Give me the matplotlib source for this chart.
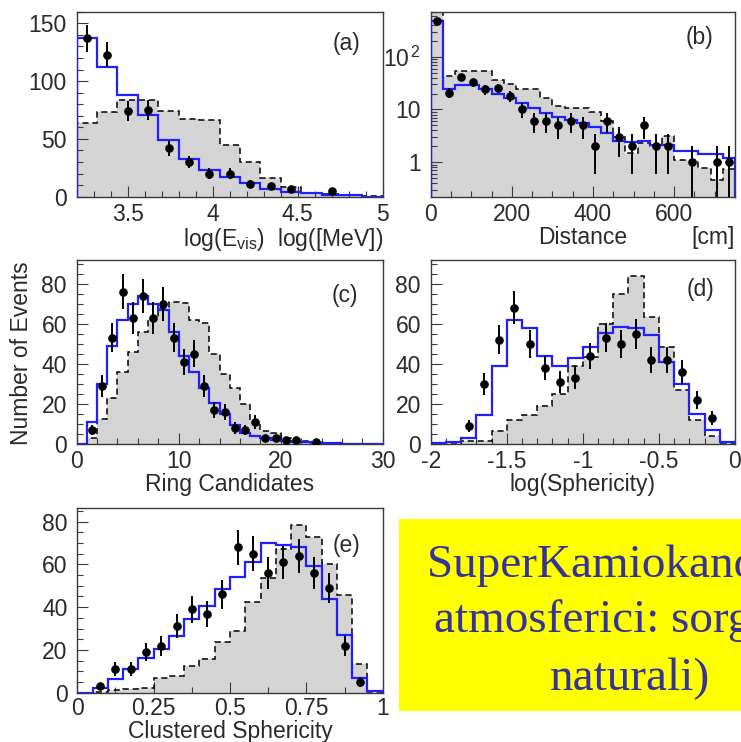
import numpy as np
import matplotlib
matplotlib.use("Agg")
import matplotlib.pyplot as plt
from matplotlib.ticker import (MultipleLocator, FixedLocator, FixedFormatter,
                               LogLocator, NullFormatter, FuncFormatter)
from matplotlib.patches import Rectangle

plt.rcParams['font.family'] = ['Liberation Sans', 'DejaVu Sans']
plt.rcParams['mathtext.fontset'] = 'custom'
plt.rcParams['mathtext.rm'] = 'Liberation Sans'
plt.rcParams['mathtext.it'] = 'Liberation Sans:italic'
plt.rcParams['axes.unicode_minus'] = False

# ---------------- (a) visible energy, 15 bins from 3.2 to 5.0 ----------------
evis_range = (3.2, 5.0, 15)
evis_data = [137, 123, 74, 75, 42, 30, 20, 20, 11, 9, 7, 0, 5, 0, 0]
evis_signal = [137, 112, 88, 71, 49, 33, 23, 17, 11.6, 7, 4.3, 3, 1.5, 1.5, 0]
evis_bkg = [64, 73, 84, 84, 74, 67, 66, 45, 30, 16, 8.7, 3.5, 2.3, 1.5, 1]

# ---------------- (b) distance, 25 bins from 0 to 750 cm ----------------
dist_range = (0, 750, 25)
dist_data = [480, 21, 41, 33, 24, 26, 18, 10, 6, 6, 5, 6, 5, 2, 6, 3, 2, 5, 2, 2,
             0, 1, 0, 1, 1]
dist_signal = [490, 24, 29, 29, 25, 20, 16.5, 13, 10.5, 8.5, 7.2, 6.3, 5.5, 4.6,
               3.5, 2.5, 2.4, 2.5, 2.1, 2.1, 1.65, 1.65, 1.4, 1.4, 1.2]
dist_bkg = [900, 43, 55, 55, 53, 37, 30, 25, 25, 16.6, 11.5, 10.5, 10.5, 8.8, 6.0,
            3.0, 1.5, 2.3, 2.0, 3.1, 1.1, 1.1, 0.77, 0.46, 0.75]

# ---------------- (c) ring candidates, 30 bins from 0 to 30 ----------------
ring_range = (0, 30, 30)
ring_data = [0, 7, 29, 53, 76, 63, 74, 63, 70, 53, 41, 45, 29, 17, 16, 8, 7, 11,
             3, 3, 2, 2, 0, 1, 0, 0, 0, 0, 0, 0]
ring_signal = [0, 11, 30, 48.7, 62, 70, 74, 70, 66.8, 55.9, 44, 35.7, 28, 20.6,
               14.8, 9.5, 5.5, 4, 3, 2.2, 1.7, 1.2, 0.8, 0.5, 0.4, 0.3, 0.2, 0.2,
               0.2, 0.2]
ring_bkg = [0, 3, 12.6, 23, 36, 46, 56, 62.5, 68, 71, 70.5, 61.7, 60.5, 45, 35,
            28, 20, 11.4, 6.4, 5.5, 3, 2.2, 1.3, 0.8, 0.5, 0.3, 0, 0, 0, 0]

# ---------------- (d) log(sphericity), 20 bins from -2 to 0 ----------------
sph_range = (-2.0, 0.0, 20)
sph_data = [0, 0, 9, 30, 52, 68, 50, 38, 31, 33, 44, 53, 50, 55, 42, 42, 36, 22,
            13, 0]
sph_signal = [0.3, 0.8, 3, 14.3, 39, 62, 58, 43.8, 39, 42.8, 48.3, 55.4, 58.4,
              57.9, 54.2, 41, 30.2, 15.1, 7.2, 0.8]
sph_bkg = [0, 0, 1.3, 1.3, 6.7, 12.2, 14.4, 19, 25, 39, 43.6, 60, 74.7, 84, 63.4,
           48.3, 26.8, 12.2, 3.9, 0]

# ---------------- (e) clustered sphericity, 20 bins from 0 to 1 ----------------
csph_range = (0.0, 1.0, 20)
csph_data = [0, 3, 11, 11, 19, 22, 31, 39, 37, 46, 68, 65, 56, 61, 64, 56, 49, 22,
             5, 0]
csph_signal = [0, 2.3, 6.2, 10.9, 16.4, 20.3, 26.5, 34.3, 40.6, 48.4, 54.3, 61,
               69.9, 69.1, 68.3, 59.3, 43.7, 27, 7, 0.8]
csph_bkg = [0, 0.5, 1.2, 1.6, 2.3, 7, 7.8, 12.5, 15.6, 23.9, 28.9, 42.6, 53.8, 67,
            78.5, 73, 60.2, 45.7, 13.3, 0]

BLUE = '#1f1fff'
GRAY = '#d4d4d4'
FRAME = '#3a3a3a'
TXT = '#2a2a2a'
FS = 16.5

fig = plt.figure(figsize=(7.41, 7.42), dpi=100)


def draw_panel(ax, rng, data, signal, bkg, log=False, xpad=4.5):
    edges = np.linspace(rng[0], rng[1], rng[2] + 1)
    base = 1e-3 if log else 0.0
    ax.stairs(bkg, edges, baseline=base, fill=True, color=GRAY, lw=0, zorder=1)
    ax.stairs(bkg, edges, baseline=base, color='black', ls=(0, (4, 2.5)),
              lw=1.1, zorder=2)
    ax.stairs(signal, edges, baseline=base, color=BLUE, lw=1.6, zorder=3)
    centers = 0.5 * (edges[:-1] + edges[1:])
    d = np.asarray(data, float)
    m = d > 0
    err = np.sqrt(d[m])
    lo = np.minimum(err, d[m] - base) if log else err
    ax.errorbar(centers[m], d[m], yerr=[lo, err], fmt='o', color='black',
                ms=5.2, elinewidth=1.4, capsize=0, zorder=4)
    ax.set_xlim(rng[0], rng[1])
    for s in ax.spines.values():
        s.set_color(FRAME)
        s.set_linewidth(1.0)
    ax.tick_params(which='both', direction='in', top=False, right=False,
                   colors=FRAME, labelcolor=TXT, labelsize=FS, width=0.8)
    ax.tick_params(which='major', length=8)
    ax.tick_params(which='minor', length=4)
    ax.tick_params(axis='y', pad=7)
    ax.tick_params(axis='x', pad=xpad)
    return edges


gfmt = FuncFormatter(lambda v, p: '%g' % v)

# (a)
ax_a = fig.add_axes([0.1035, 0.7349, 0.413, 0.2493])
draw_panel(ax_a, evis_range, evis_data, evis_signal, evis_bkg)
ax_a.set_ylim(0, 160)
ax_a.xaxis.set_major_locator(MultipleLocator(0.5))
ax_a.xaxis.set_minor_locator(MultipleLocator(0.1))
ax_a.xaxis.set_major_formatter(gfmt)
ax_a.yaxis.set_major_locator(MultipleLocator(50))
ax_a.yaxis.set_minor_locator(MultipleLocator(10))
ax_a.set_xlabel(r'log(E$_{\mathrm{vis}}$)  log([MeV])', fontsize=FS, color=TXT,
                loc='right', labelpad=0)
ax_a.text(0.883, 0.83, '(a)', transform=ax_a.transAxes, fontsize=FS,
          color=TXT, ha='center', va='center')

# (b)
ax_b = fig.add_axes([0.5812, 0.7349, 0.4107, 0.2493])
ax_b.set_yscale('log')
draw_panel(ax_b, dist_range, dist_data, dist_signal, dist_bkg, log=True)
ax_b.set_ylim(0.22, 720)
ax_b.xaxis.set_major_locator(MultipleLocator(200))
ax_b.xaxis.set_minor_locator(MultipleLocator(50))
ax_b.yaxis.set_major_locator(FixedLocator([1, 10, 100]))
ax_b.yaxis.set_major_formatter(FixedFormatter(['1', '10', r'10$^{\,2}$']))
ax_b.yaxis.set_minor_locator(LogLocator(base=10, subs=np.arange(2, 10)))
ax_b.yaxis.set_minor_formatter(NullFormatter())
ax_b.set_xlabel('Distance', fontsize=FS, color=TXT, labelpad=0)
ax_b.text(1.0, -0.255, '[cm]', transform=ax_b.transAxes, fontsize=FS,
          color=TXT, ha='right', va='baseline')
ax_b.text(0.882, 0.858, '(b)', transform=ax_b.transAxes, fontsize=FS,
          color=TXT, ha='center', va='center')

# (c)
ax_c = fig.add_axes([0.1035, 0.4016, 0.413, 0.2484])
draw_panel(ax_c, ring_range, ring_data, ring_signal, ring_bkg)
ax_c.set_ylim(0, 92)
ax_c.xaxis.set_major_locator(MultipleLocator(10))
ax_c.xaxis.set_minor_locator(MultipleLocator(2))
ax_c.yaxis.set_major_locator(MultipleLocator(20))
ax_c.yaxis.set_minor_locator(MultipleLocator(5))
ax_c.set_xlabel('Ring Candidates', fontsize=FS, color=TXT, labelpad=0)
ax_c.text(0.877, 0.808, '(c)', transform=ax_c.transAxes, fontsize=FS,
          color=TXT, ha='center', va='center')

# (d)
ax_d = fig.add_axes([0.5812, 0.4016, 0.4107, 0.2484])
draw_panel(ax_d, sph_range, sph_data, sph_signal, sph_bkg)
ax_d.set_ylim(0, 92)
ax_d.xaxis.set_major_locator(MultipleLocator(0.5))
ax_d.xaxis.set_minor_locator(MultipleLocator(0.1))
ax_d.xaxis.set_major_formatter(gfmt)
ax_d.yaxis.set_major_locator(MultipleLocator(20))
ax_d.yaxis.set_minor_locator(MultipleLocator(5))
ax_d.set_xlabel('log(Sphericity)', fontsize=FS, color=TXT, labelpad=0)
ax_d.text(0.885, 0.836, '(d)', transform=ax_d.transAxes, fontsize=FS,
          color=TXT, ha='center', va='center')

# (e)
ax_e = fig.add_axes([0.1043, 0.0664, 0.4122, 0.2494])
draw_panel(ax_e, csph_range, csph_data, csph_signal, csph_bkg, xpad=2.8)
ax_e.set_ylim(0, 86.5)
ax_e.xaxis.set_major_locator(MultipleLocator(0.25))
ax_e.xaxis.set_minor_locator(MultipleLocator(0.125))
ax_e.xaxis.set_major_formatter(gfmt)
ax_e.yaxis.set_major_locator(MultipleLocator(20))
ax_e.yaxis.set_minor_locator(MultipleLocator(5))
ax_e.set_xlabel('Clustered Sphericity', fontsize=FS, color=TXT, labelpad=0)
ax_e.text(0.883, 0.798, '(e)', transform=ax_e.transAxes, fontsize=FS,
          color=TXT, ha='center', va='center')

# shared y title
fig.text(0.0293, 0.524, 'Number of Events', rotation=90, fontsize=FS,
         color=TXT, ha='center', va='center')

# caption box (runs off the right edge of the page)
W, H = 741.0, 742.0
fig.patches.append(Rectangle((399 / W, 1 - 711 / H), 1.0, (711 - 519) / H,
                             transform=fig.transFigure, facecolor='#ffff00',
                             edgecolor='none', zorder=0))
serif = dict(family=['Liberation Serif', 'DejaVu Serif'], fontsize=33.9,
             color='#333399', va='baseline', ha='left')
fig.text(426.7 / W, 1 - 576.7 / H, 'SuperKamiokande (neutrini', **serif)
fig.text(434 / W, 1 - 631.7 / H, 'atmosferici: sorgenti', **serif)
fig.text(550 / W, 1 - 690 / H, 'naturali)', **serif)

fig.savefig('out.png', dpi=100)
